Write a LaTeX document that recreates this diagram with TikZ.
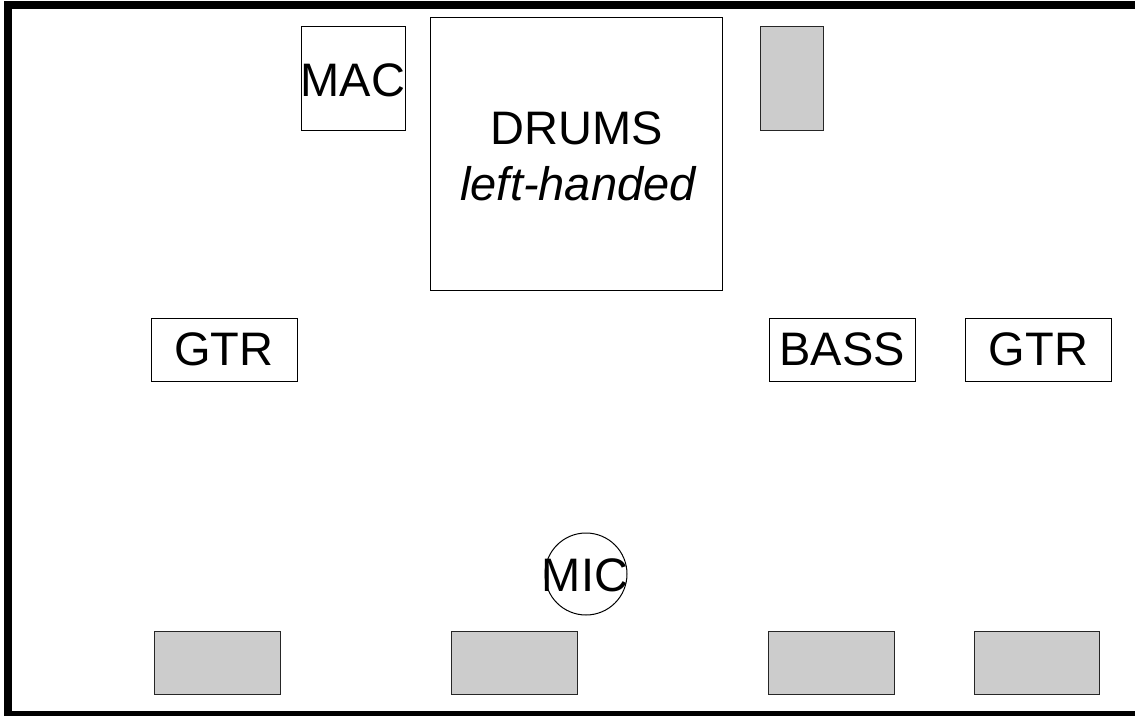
\documentclass[tikz,border=0pt]{standalone}
\usepackage{fontspec}
\setmainfont{Liberation Sans}
\begin{document}
\begin{tikzpicture}[x=1pt,y=-1pt,
  lbl/.style={font=\fontsize{47}{56}\selectfont, inner sep=0pt},
  box/.style={draw=black, line width=1pt, inner sep=0pt, font=\fontsize{47}{56}\selectfont},
  grayblk/.style={draw=black!85, fill=black!20, line width=1pt, inner sep=0pt},
  micring/.style={circle, draw=black, line width=1pt, inner sep=0pt, minimum size=82pt}
]
\clip (0,0) rectangle (1135,715);
\fill[white] (0,0) rectangle (1135,715);
\draw[line width=8pt] (8,5) rectangle (1160,715);

% top row
\node[box, minimum width=104pt, minimum height=104pt] (mac) at (353,78) {};
\node[lbl] (mactxt) at (353,80) {MAC};
\node[box, minimum width=292pt, minimum height=273pt] (drums) at (576.5,153.5) {};
\node[lbl, anchor=base] (drumstxt) at (577,144) {DRUMS};
\node[lbl, anchor=base] (lefttxt) at (578,200) {\itshape left-handed};
\node[grayblk, minimum width=63pt, minimum height=104pt] (amp) at (792,78) {};

% middle row
\node[box, minimum width=146pt, minimum height=63pt] (gtrl) at (224,349.5) {GTR};
\node[box, minimum width=146pt, minimum height=63pt] (bass) at (842,349.5) {BASS};
\node[box, minimum width=146pt, minimum height=63pt] (gtrr) at (1038.5,349.5) {GTR};

% mic
\node[micring] (mic) at (586,574) {};
\node[lbl] (mictxt) at (585,575) {MIC};

% bottom monitors
\node[grayblk, minimum width=126pt, minimum height=63pt] (mon1) at (217,662.5) {};
\node[grayblk, minimum width=126pt, minimum height=63pt] (mon2) at (514,662.5) {};
\node[grayblk, minimum width=126pt, minimum height=63pt] (mon3) at (831.5,662.5) {};
\node[grayblk, minimum width=125pt, minimum height=63pt] (mon4) at (1036.5,662.5) {};
\end{tikzpicture}
\end{document}
